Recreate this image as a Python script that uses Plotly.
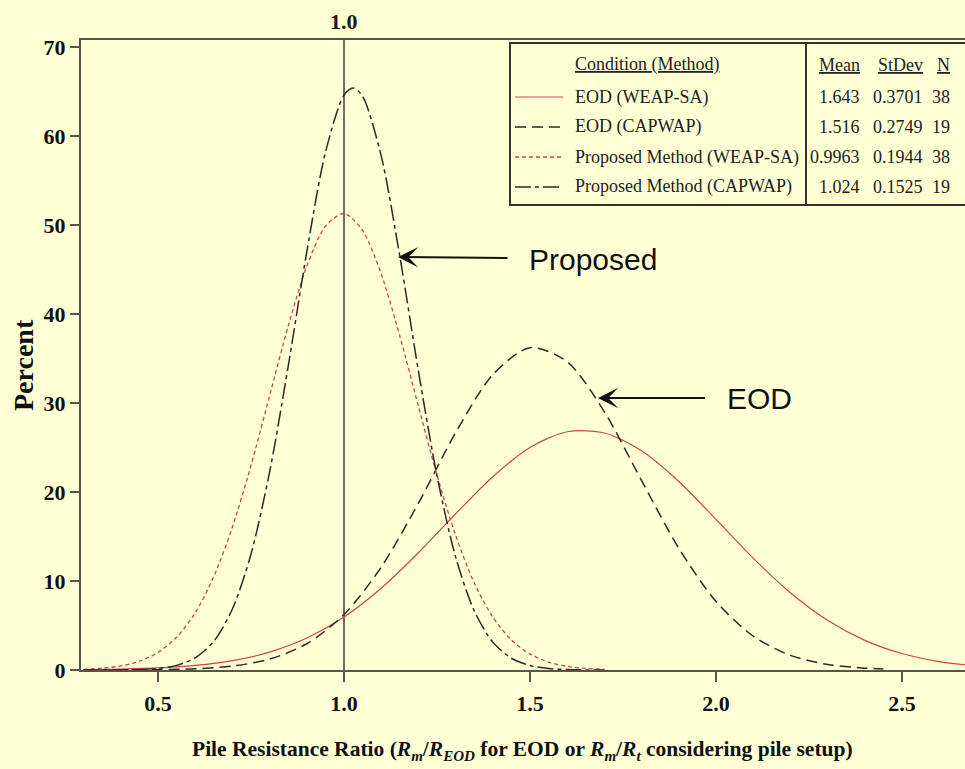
import plotly.graph_objects as go

# ---------------- data ----------------
x_eod_weap = [0.3, 0.4, 0.5, 0.6, 0.7, 0.8, 0.9, 1.0, 1.1, 1.2, 1.3, 1.4, 1.5, 1.6,
              1.7, 1.8, 1.9, 2.0, 2.1, 2.2, 2.3, 2.4, 2.5, 2.6, 2.7]
y_eod_weap = [0.04, 0.10, 0.23, 0.51, 1.05, 2.01, 3.59, 5.96, 9.19, 13.17, 17.54, 21.72,
              25.01, 26.77, 26.63, 24.63, 21.18, 16.92, 12.57, 8.68, 5.58, 3.33, 1.85,
              0.95, 0.46]

x_eod_capwap = [0.3, 0.4, 0.5, 0.6, 0.7, 0.8, 0.9, 1.0, 1.1, 1.2, 1.3, 1.4, 1.5, 1.6,
                1.7, 1.8, 1.9, 2.0, 2.1, 2.2, 2.3, 2.4, 2.45]
y_eod_capwap = [0.0, 0.01, 0.04, 0.14, 0.44, 1.22, 2.95, 6.23, 11.55, 18.74, 26.65, 33.19,
                36.22, 34.63, 29.0, 21.28, 13.68, 7.70, 3.80, 1.64, 0.62, 0.21, 0.12]

x_prop_weap = [0.30, 0.35, 0.40, 0.45, 0.50, 0.55, 0.60, 0.65, 0.70, 0.75, 0.80, 0.85,
               0.90, 0.95, 1.00, 1.05, 1.10, 1.15, 1.20, 1.25, 1.30, 1.35, 1.40, 1.45,
               1.50, 1.55, 1.60, 1.65, 1.70]
y_prop_weap = [0.08, 0.20, 0.46, 0.99, 1.97, 3.68, 6.42, 10.50, 16.06, 22.99, 30.81, 38.64,
               45.37, 49.86, 51.29, 49.38, 44.50, 37.53, 29.63, 21.90, 15.14, 9.80, 5.94,
               3.37, 1.79, 0.89, 0.41, 0.18, 0.07]

x_prop_capwap = [0.30, 0.35, 0.40, 0.45, 0.50, 0.55, 0.60, 0.65, 0.70, 0.75, 0.80, 0.85,
                 0.90, 0.95, 1.00, 1.025, 1.05, 1.10, 1.15, 1.20, 1.25, 1.30, 1.35, 1.40,
                 1.45, 1.50, 1.55, 1.60, 1.65, 1.70]
y_prop_capwap = [0.0, 0.0, 0.02, 0.05, 0.18, 0.52, 1.37, 3.23, 6.85, 13.02, 22.24, 34.11,
                 46.99, 58.14, 64.60, 65.40, 64.46, 57.76, 46.49, 33.60, 21.81, 12.71, 6.66,
                 3.13, 1.32, 0.50, 0.17, 0.05, 0.01, 0.0]

legend_names = ["EOD (WEAP-SA)", "EOD (CAPWAP)", "Proposed Method (WEAP-SA)",
                "Proposed Method (CAPWAP)"]
legend_means = ["1.643", "1.516", "0.9963", "1.024"]
legend_stdevs = ["0.3701", "0.2749", "0.1944", "0.1525"]
legend_ns = ["38", "19", "38", "19"]

x_ticks = [0.5, 1.0, 1.5, 2.0, 2.5]
x_tick_labels = ["0.5", "1.0", "1.5", "2.0", "2.5"]
y_ticks = [0, 10, 20, 30, 40, 50, 60, 70]
ref_x = 1.0

# ---------------- styles ----------------
BG = "#FFFFD6"
RED = "#D0404C"
DARK = "#2a2a2a"
styles = [
    dict(color=RED, width=1.2, dash="solid"),
    dict(color=DARK, width=1.5, dash="11px,6px"),
    dict(color=RED, width=1.3, dash="4px,3px"),
    dict(color=DARK, width=1.5, dash="16px,4px,4px,4px"),
]
series = [(x_eod_weap, y_eod_weap), (x_eod_capwap, y_eod_capwap),
          (x_prop_weap, y_prop_weap), (x_prop_capwap, y_prop_capwap)]

fig = go.Figure()
for (xs, ys), st, nm in zip(series, styles, legend_names):
    fig.add_trace(go.Scatter(x=xs, y=ys, mode="lines", name=nm,
                             line=dict(shape="spline", smoothing=0.8, **st),
                             showlegend=False, hoverinfo="x+y+name"))

# plot area in pixels: left 81, right 965, top 40, bottom 670
L, R, T, B = 81, 965, 40, 670
W, H = 965, 769


def px(x):
    return (x - L) / (R - L)


def py(y):
    return (B - y) / (B - T)


SERIF = "Liberation Serif, Times New Roman, serif"
SANS = "Liberation Sans, Arial, sans-serif"

shapes = []
annotations = []

# vertical reference line at 1.0
shapes.append(dict(type="line", xref="x", yref="paper", x0=ref_x, x1=ref_x, y0=0, y1=1,
                   line=dict(color="#6e6e62", width=2), layer="below"))
annotations.append(dict(x=ref_x, y=1, xref="x", yref="paper", text="<b>1.0</b>",
                        showarrow=False, yanchor="bottom", yshift=4,
                        font=dict(family=SERIF, size=22, color="#1a1a1a")))

# legend box
shapes.append(dict(type="rect", xref="paper", yref="paper", x0=px(510), x1=px(968),
                   y0=py(205), y1=py(43), line=dict(color="#333333", width=2),
                   fillcolor=BG, layer="above"))
shapes.append(dict(type="line", xref="paper", yref="paper", x0=px(806), x1=px(806),
                   y0=py(205), y1=py(43), line=dict(color="#333333", width=2)))

LF = dict(family=SERIF, size=18, color="#222222")
annotations.append(dict(x=px(573), y=py(65), xref="paper", yref="paper",
                        text="<u>Condition (Method)</u>", showarrow=False,
                        xanchor="left", yanchor="middle", font=LF))
annotations.append(dict(x=px(862), y=py(65), xref="paper", yref="paper",
                        text="<u>Mean</u>", showarrow=False,
                        xanchor="right", yanchor="middle", font=LF))
annotations.append(dict(x=px(925), y=py(65), xref="paper", yref="paper",
                        text="<u>StDev</u>", showarrow=False,
                        xanchor="right", yanchor="middle", font=LF))
annotations.append(dict(x=px(952), y=py(65), xref="paper", yref="paper",
                        text="<u>N</u>", showarrow=False,
                        xanchor="right", yanchor="middle", font=LF))
row_y = [97, 127, 157, 187]
for i in range(4):
    yy = py(row_y[i])
    shapes.append(dict(type="line", xref="paper", yref="paper", x0=px(515), x1=px(563),
                       y0=yy, y1=yy, line=styles[i]))
    annotations.append(dict(x=px(573), y=yy, xref="paper", yref="paper",
                            text=legend_names[i], showarrow=False,
                            xanchor="left", yanchor="middle", font=LF))
    annotations.append(dict(x=px(862), y=yy, xref="paper", yref="paper",
                            text=legend_means[i], showarrow=False,
                            xanchor="right", yanchor="middle", font=LF))
    annotations.append(dict(x=px(925), y=yy, xref="paper", yref="paper",
                            text=legend_stdevs[i], showarrow=False,
                            xanchor="right", yanchor="middle", font=LF))
    annotations.append(dict(x=px(952), y=yy, xref="paper", yref="paper",
                            text=legend_ns[i], showarrow=False,
                            xanchor="right", yanchor="middle", font=LF))

# arrows with their labels (text box centred at the arrow tail offset)
AF = dict(family=SANS, size=30, color="#111111")
annotations.append(dict(x=px(398), y=py(257), xref="paper", yref="paper",
                        ax=593 - 398, ay=2, axref="pixel", ayref="pixel",
                        text="Proposed", showarrow=True, arrowhead=3, arrowsize=1.7,
                        arrowwidth=2, arrowcolor="#111111", borderpad=21, font=AF))
annotations.append(dict(x=px(598), y=py(398), xref="paper", yref="paper",
                        ax=759 - 598, ay=0, axref="pixel", ayref="pixel",
                        text="EOD", showarrow=True, arrowhead=3, arrowsize=1.7,
                        arrowwidth=2, arrowcolor="#111111", borderpad=21, font=AF))

# axis titles
annotations.append(dict(x=px(24), y=py(365), xref="paper", yref="paper",
                        text="<b>Percent</b>", textangle=-90, showarrow=False,
                        xanchor="center", yanchor="middle",
                        font=dict(family=SERIF, size=28, color="#111111")))
annotations.append(dict(x=px(522), y=py(750), xref="paper", yref="paper",
                        text="<b>Pile Resistance Ratio (<i>R<sub>m</sub></i>/<i>R<sub>EOD</sub></i>"
                             " for EOD or <i>R<sub>m</sub></i>/<i>R<sub>t</sub></i>"
                             " considering pile setup)</b>",
                        showarrow=False, xanchor="center", yanchor="middle",
                        font=dict(family=SERIF, size=21.5, color="#111111")))

AX_COLOR = "#55554c"
x_per_px = 1 / 372.0
x0 = 0.5 - (158 - L) * x_per_px
x1 = x0 + (R - L) * x_per_px
y1 = (B - T) / 8.9

TICKFONT = dict(family=SERIF, size=22, color="#111111", weight="bold")

fig.update_layout(
    width=W, height=H,
    margin=dict(l=L, r=W - R, t=T, b=H - B, pad=0),
    paper_bgcolor=BG, plot_bgcolor=BG,
    showlegend=False,
    shapes=shapes, annotations=annotations,
    xaxis=dict(range=[x0, x1], tickvals=x_ticks, ticktext=x_tick_labels,
               showgrid=False, zeroline=False, showline=True, linecolor=AX_COLOR,
               linewidth=2, mirror=True, ticks="outside", ticklen=10, tickwidth=2,
               tickcolor=AX_COLOR, ticklabelstandoff=3, tickfont=TICKFONT),
    yaxis=dict(range=[0, y1], tickvals=y_ticks, showgrid=False, zeroline=False,
               showline=True, linecolor=AX_COLOR, linewidth=2, mirror=False,
               ticks="outside", ticklen=9, tickwidth=2, tickcolor=AX_COLOR,
               tickfont=TICKFONT),
)

fig.write_html("out.html")
